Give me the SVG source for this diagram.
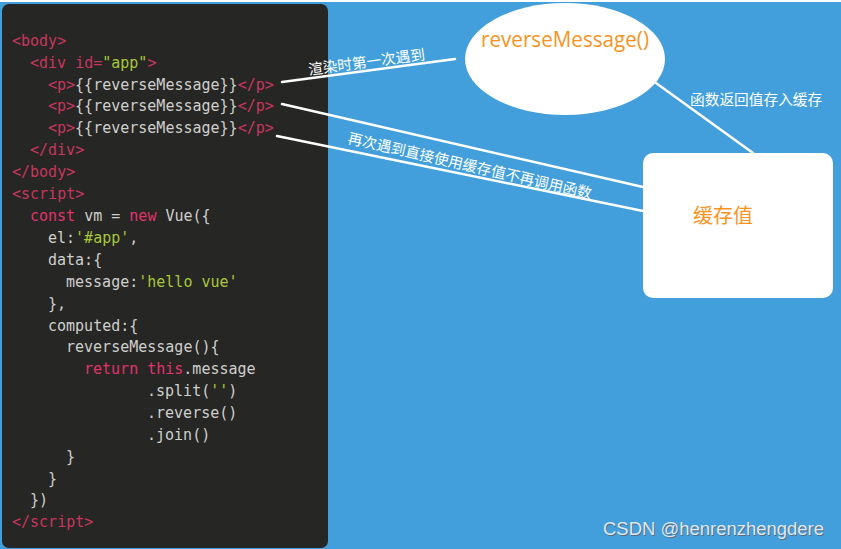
<svg xmlns="http://www.w3.org/2000/svg" width="841" height="549" viewBox="0 0 841 549">
<style>
.code{font-family:"DejaVu Sans Mono","Liberation Mono",monospace;font-size:15px;fill:#cfcfcc}
.t{fill:#c8365e}
.k{fill:#e0336b}
.s{fill:#a6c83a}
.lbl{font-family:"Noto Sans CJK SC","Noto Sans",sans-serif;font-size:14.7px;fill:#ffffff}
.node{font-family:"Open Sans","Noto Sans CJK SC",sans-serif;fill:#f7941d}
.conn{stroke:#ffffff;stroke-width:2.5;fill:none;stroke-linecap:round}
</style>
<rect x="0" y="0" width="841" height="549" fill="#ffffff"/>
<rect x="0" y="2" width="841" height="547" fill="#429fdb"/>
<g id="code-panel">
<rect x="2" y="4" width="326" height="544" rx="7" fill="#262624"/>
<g class="code" xml:space="preserve">
<text x="12" y="46"><tspan class="t">&lt;body&gt;</tspan></text>
<text x="30" y="68"><tspan class="t">&lt;div id=</tspan><tspan class="s">"app"</tspan><tspan class="t">&gt;</tspan></text>
<text x="48" y="90"><tspan class="t">&lt;p&gt;</tspan>{{reverseMessage}}<tspan class="t">&lt;/p&gt;</tspan></text>
<text x="48" y="111"><tspan class="t">&lt;p&gt;</tspan>{{reverseMessage}}<tspan class="t">&lt;/p&gt;</tspan></text>
<text x="48" y="133"><tspan class="t">&lt;p&gt;</tspan>{{reverseMessage}}<tspan class="t">&lt;/p&gt;</tspan></text>
<text x="30" y="155"><tspan class="t">&lt;/div&gt;</tspan></text>
<text x="12" y="177"><tspan class="t">&lt;/body&gt;</tspan></text>
<text x="12" y="199"><tspan class="t">&lt;script&gt;</tspan></text>
<text x="30" y="221"><tspan class="k">const</tspan> vm = <tspan class="k">new</tspan> Vue({</text>
<text x="48" y="243">el:<tspan class="s">'#app'</tspan>,</text>
<text x="48" y="265">data:{</text>
<text x="66" y="287">message:<tspan class="s">'hello vue'</tspan></text>
<text x="48" y="309">},</text>
<text x="48" y="331">computed:{</text>
<text x="66" y="352">reverseMessage(){</text>
<text x="84" y="374"><tspan class="k">return</tspan> <tspan class="k">this</tspan>.message</text>
<text x="147" y="396">.split(<tspan class="s">''</tspan>)</text>
<text x="147" y="418">.reverse()</text>
<text x="147" y="440">.join()</text>
<text x="66" y="462">}</text>
<text x="48" y="484">}</text>
<text x="30" y="505">})</text>
<text x="12" y="527"><tspan class="t">&lt;/script&gt;</tspan></text>
</g>
</g>
<g id="connectors">
<line class="conn" x1="282" y1="82" x2="455" y2="59"/>
<line class="conn" x1="282" y1="104" x2="643" y2="187"/>
<line class="conn" x1="277" y1="136" x2="643" y2="211"/>
<line class="conn" x1="656" y1="83" x2="753" y2="153"/>
<text class="lbl" x="309" y="75" transform="rotate(-7.6 309 75)">渲染时第一次遇到</text>
<text class="lbl" x="347" y="143" transform="rotate(12.9 347 143)">再次遇到直接使用缓存值不再调用函数</text>
<text class="lbl" x="690" y="105">函数返回值存入缓存</text>
</g>
<g id="node-reverseMessage">
<ellipse cx="565" cy="59" rx="100" ry="56" fill="#ffffff"/>
<text class="node" x="481" y="47" font-size="21" textLength="168" lengthAdjust="spacingAndGlyphs">reverseMessage()</text>
</g>
<g id="node-cache">
<rect x="643" y="153" width="190" height="145" rx="10" fill="#ffffff"/>
<text class="node" x="693" y="223" font-size="20">缓存值</text>
</g>
<g id="watermark" font-family="Liberation Sans, Arial, sans-serif" font-size="18">
<text x="604" y="536" fill="#5a6a78" textLength="221" lengthAdjust="spacingAndGlyphs">CSDN @henrenzhengdere</text>
<text x="603" y="535" fill="#dfe8f0" textLength="221" lengthAdjust="spacingAndGlyphs">CSDN @henrenzhengdere</text>
</g>
</svg>
